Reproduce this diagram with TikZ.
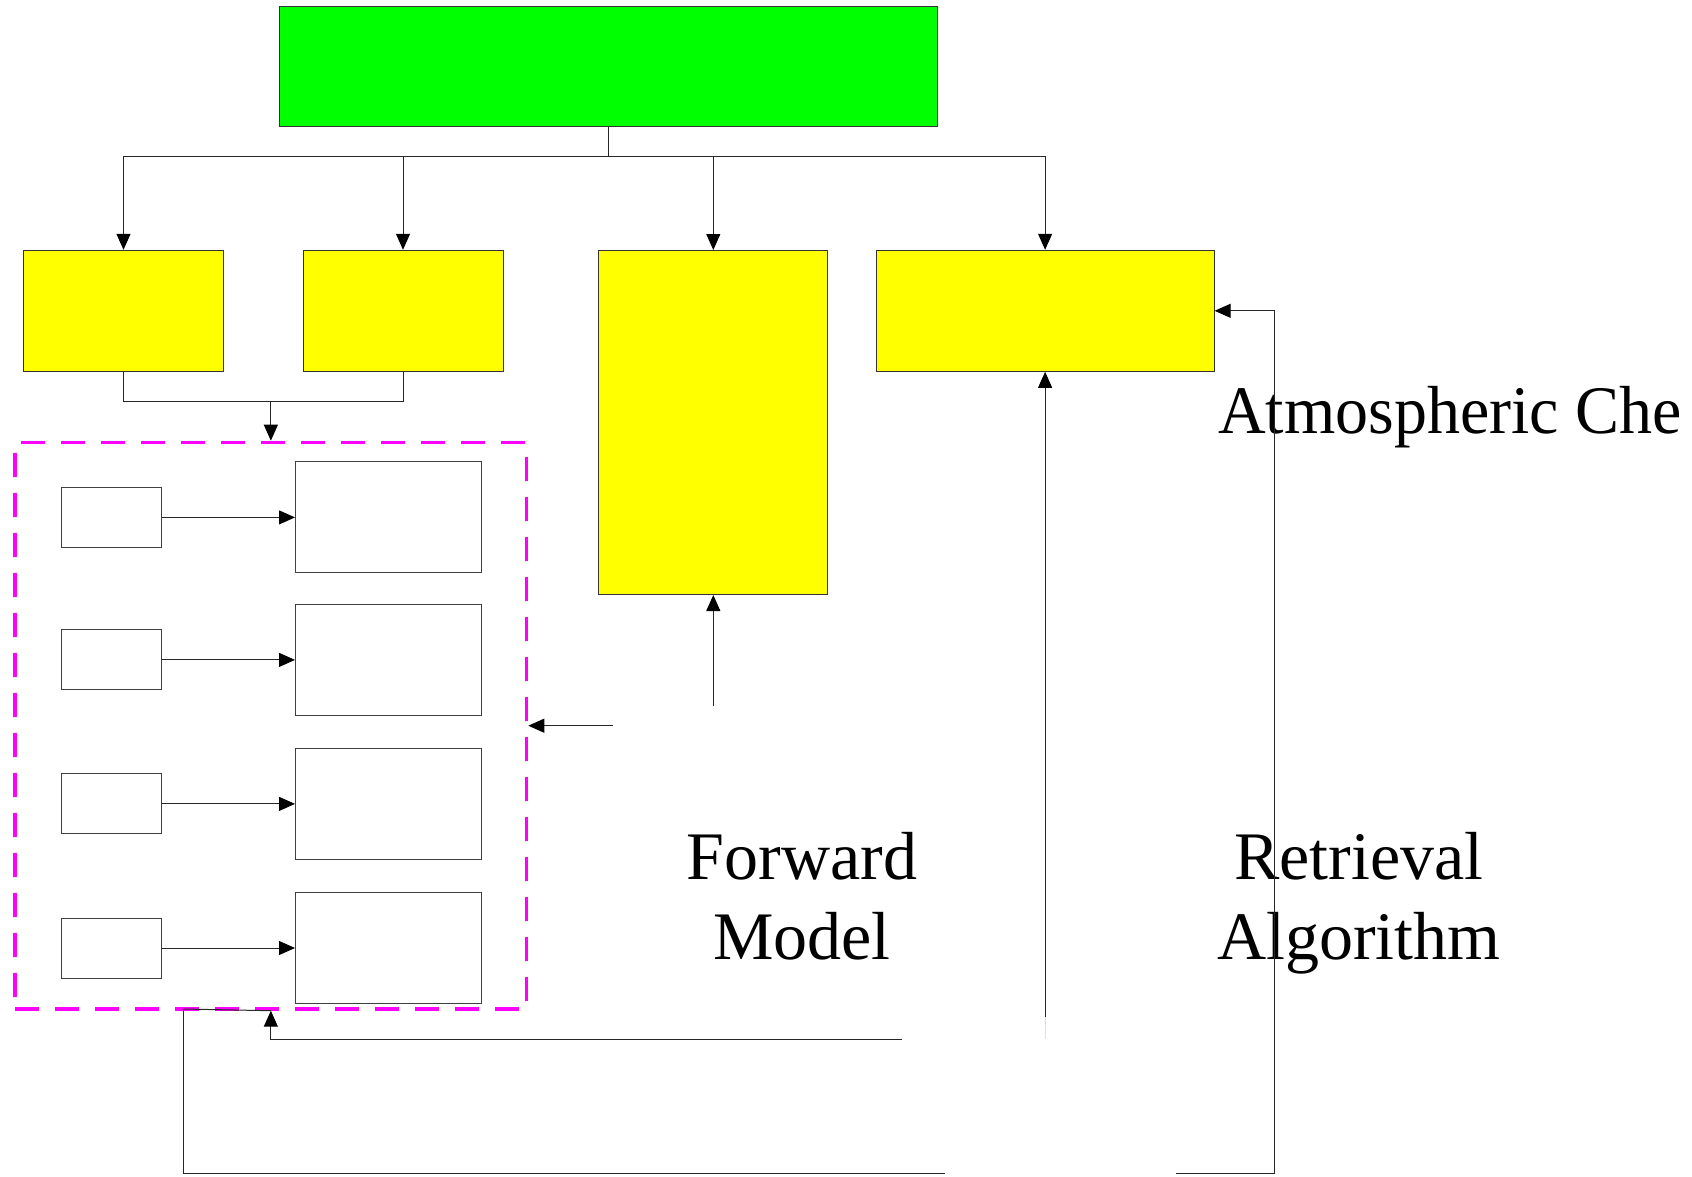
\documentclass[tikz,border=0pt]{standalone}
\usepackage{fontspec}
\setmainfont{Liberation Serif}
\usetikzlibrary{arrows.meta,calc}
\definecolor{myyellow}{RGB}{255,255,0}
\definecolor{mygreen}{RGB}{0,255,0}
\definecolor{mymagenta}{RGB}{255,0,255}
\begin{document}
\begin{tikzpicture}[x=1pt,y=-1pt,
  yel/.style={draw=black!80,fill=myyellow,line width=1pt,inner sep=0pt,minimum width=#1},
  grn/.style={draw=black!80,fill=mygreen,line width=1pt,inner sep=0pt},
  wsmall/.style={draw=black!75,fill=white,line width=1pt,inner sep=0pt,minimum width=100pt,minimum height=60pt},
  wbig/.style={draw=black!75,fill=white,line width=1pt,inner sep=0pt,minimum width=186pt,minimum height=111pt},
  grp/.style={draw=mymagenta,dash pattern=on 24pt off 16pt,line width=3.4pt,inner sep=0pt,minimum width=511.5pt,minimum height=566.6pt},
  conn/.style={line width=1pt,black!85},
  arr/.style={conn,-{Triangle[length=16pt,width=14pt,color=black,fill=black]}},
  bigtext/.style={font=\fontsize{68}{80}\selectfont,align=center,inner sep=0pt}]
\useasboundingbox (0,0) rectangle (1692,1176);
% top box
\node[grn,minimum width=658pt,minimum height=120pt] (top) at (608.6,66.4) {};
% yellow boxes
\node[yel=200pt,minimum height=121pt] (y1) at (123.5,310.8) {};
\node[yel=200pt,minimum height=121pt] (y2) at (403,310.8) {};
\node[yel=229pt,minimum height=344pt] (y3) at (713.3,422.5) {};
\node[yel=338pt,minimum height=121pt] (y4) at (1045.1,310.8) {};
% dashed group
\node[grp] (group) at (270.85,725.7) {};
% inner boxes
\foreach \i/\y in {1/517.4,2/659.9,3/803.9,4/948}{
  \node[wsmall] (s\i) at (111.7,\y) {};
  \node[wbig] (b\i) at (388.5,\y) {};
  \draw[arr] (s\i) -- (b\i);
}
% top bus
\coordinate (bus) at (608.6,156.5);
\draw[conn] (top.south) -- (bus);
\draw[arr] (bus) -| (y1.north);
\draw[arr] (bus) -| (y2.north);
\draw[arr] (bus) -| (y3.north);
\draw[arr] (bus) -| (y4.north);
% y1,y2 to group
\coordinate (merge) at (270.85,401);
\draw[conn] (y1.south) |- (merge);
\draw[conn] (y2.south) |- (merge);
\draw[arr] (merge) -- (group.north);
% texts
\node[bigtext] (fm) at (802,896) {Forward\\Model};
\node[bigtext] (ra) at (1359,903) {Retrieval\\Algorithm};
\node[bigtext,anchor=base west] (ac) at (1218,433) {\scalebox{0.97}[1]{Atmospheric Che}};
% forward model connectors
\coordinate (fmtop) at (713.3,706);
\coordinate (fmleft) at (613,725.7);
\draw[arr] (fmtop) -- (y3.south);
\draw[arr] (fmleft) -- (group.east);
% retrieval connectors
\coordinate (rtop) at (1045.1,1017);
\draw[arr] (rtop) -- (y4.south);
\draw[black!12,line width=0.8pt] (rtop) -- (1045.1,1039);
\coordinate (rleft) at (902,1039);
\draw[arr] (rleft) -| (group.south);
\coordinate (gb) at (183.4,1009);
\draw[conn] (gb) -- (group.south);
\coordinate (lowleft) at (945,1173);
\draw[conn] (gb) |- (lowleft);
\coordinate (lowright) at (1176,1173);
\draw[arr] (lowright) -| (1274,310.8) -- (y4.east);
\end{tikzpicture}
\end{document}
